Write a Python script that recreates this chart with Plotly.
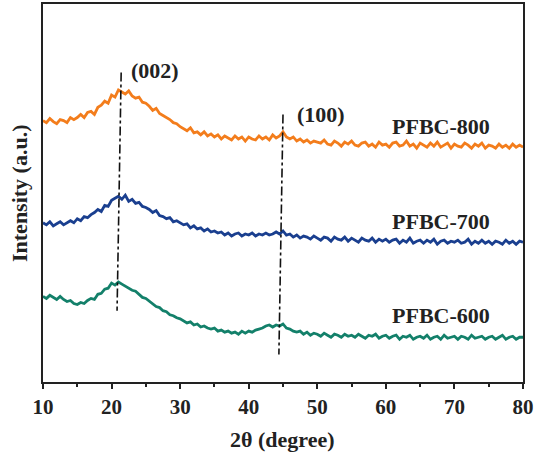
import numpy as np
import plotly.graph_objects as go

two_theta = np.arange(10, 80.01, 0.5).tolist()

pfbc_800 = [262, 260, 264, 261, 259, 263, 262, 260, 265, 263,
            265, 268, 265, 270, 271, 268, 275, 277, 281, 279,
            287, 285, 292, 290, 288, 291, 286, 284, 285, 280,
            279, 276, 272, 274, 269, 267, 265, 263, 260, 259,
            256, 254, 252, 255, 250, 251, 248, 251, 247, 249,
            246, 248, 244, 247, 245, 243, 247, 244, 246, 242,
            246, 244, 243, 247, 244, 246, 243, 248, 245, 247,
            251, 246, 244, 246, 242, 244, 241, 243, 240, 242, 241,
            240, 243, 239, 238, 242, 240, 237, 241, 239, 242,
            238, 237, 240, 241, 237, 239, 236, 241, 238, 239,
            236, 240, 241, 237, 238, 242, 237, 239, 235, 240,
            238, 236, 240, 237, 241, 236, 238, 240, 235, 239,
            237, 236, 240, 238, 235, 239, 237, 240, 235, 238,
            237, 235, 239, 236, 238, 235, 239, 236, 238, 236]

pfbc_700 = [162, 160, 163, 159, 161, 163, 160, 162, 164, 162,
            166, 164, 168, 167, 170, 172, 175, 173, 179, 178,
            184, 186, 188, 185, 189, 183, 185, 181, 182, 178,
            177, 175, 172, 174, 169, 168, 166, 167, 163, 164,
            162, 160, 161, 157, 159, 156, 157, 154, 156, 153,
            154, 152, 153, 150, 152, 149, 151, 152, 149, 151,
            150, 152, 149, 151, 150, 152, 150, 151, 153, 151,
            154, 150, 151, 148, 150, 147, 149, 148, 146, 149, 147,
            145, 148, 147, 144, 148, 146, 145, 148, 144, 147,
            145, 143, 147, 145, 144, 147, 143, 146, 144, 146,
            143, 145, 146, 142, 145, 143, 147, 142, 144, 145,
            142, 145, 143, 146, 141, 144, 145, 142, 144, 143,
            145, 142, 143, 146, 141, 144, 142, 145, 142, 144,
            141, 144, 143, 141, 145, 142, 144, 141, 144, 143]

pfbc_600 = [90, 88, 91, 89, 87, 90, 87, 85, 86, 83,
            82, 84, 83, 86, 88, 87, 92, 93, 97, 98,
            103, 101, 104, 102, 100, 98, 96, 95, 92, 89,
            88, 85, 83, 80, 79, 76, 75, 72, 71, 69,
            68, 66, 64, 65, 62, 63, 60, 61, 59, 58,
            59, 56, 57, 55, 56, 54, 55, 53, 56, 54,
            56, 55, 57, 58, 59, 61, 62, 60, 62, 61,
            63, 59, 58, 56, 55, 56, 53, 55, 52, 54, 53,
            51, 54, 52, 50, 53, 52, 50, 53, 51, 52,
            50, 53, 51, 49, 52, 51, 53, 49, 51, 52,
            49, 51, 52, 48, 51, 50, 52, 48, 50, 51,
            49, 52, 48, 50, 51, 48, 52, 49, 50, 51,
            48, 51, 50, 48, 52, 49, 50, 51, 48, 50,
            51, 48, 50, 52, 48, 50, 51, 48, 50, 50]

series_names = ["PFBC-800", "PFBC-700", "PFBC-600"]
series_colors = ["#F37D1C", "#1A3F8F", "#13806A"]
label_x = [68.0, 68.0, 68.0]
label_y = [256, 163, 71]

# reference lines for the (002) and (100) reflections: [top, bottom]
ref_labels = ["(002)", "(100)"]
ref_line_x = [[21.4, 20.8], [45.0, 44.4]]
ref_line_y = [[309, 76], [268, 33]]
ref_label_x = [26.3, 50.5]
ref_label_y = [311, 268]

tick_vals = [10, 20, 30, 40, 50, 60, 70, 80]

fig = go.Figure()
for name, ys, col in zip(series_names, [pfbc_800, pfbc_700, pfbc_600], series_colors):
    fig.add_trace(go.Scatter(x=two_theta, y=ys, mode="lines", name=name,
                             line=dict(color=col, width=2.8), showlegend=False))

for xs, ys in zip(ref_line_x, ref_line_y):
    fig.add_trace(go.Scatter(x=xs, y=ys, mode="lines", showlegend=False,
                             line=dict(color="#111", width=1.6, dash="dashdot")))

font_b = dict(family="Liberation Serif", size=22, color="#222")
for name, x, y in zip(series_names, label_x, label_y):
    fig.add_annotation(x=x, y=y, text=f"<b>{name}</b>", showarrow=False, font=font_b)
for name, x, y in zip(ref_labels, ref_label_x, ref_label_y):
    fig.add_annotation(x=x, y=y, text=f"<b>{name}</b>", showarrow=False, font=font_b)

title_font = dict(family="Liberation Serif", size=22, color="#222")
fig.add_annotation(xref="paper", yref="paper", x=0.499, y=-0.153, text="<b>2θ (degree)</b>",
                   showarrow=False, font=title_font, xanchor="center", yanchor="middle")
fig.add_annotation(xref="paper", yref="paper", x=-0.05, y=0.5, text="<b>Intensity (a.u.)</b>",
                   showarrow=False, font=title_font, textangle=-90, xanchor="center", yanchor="middle")

fig.update_layout(
    width=534, height=459,
    margin=dict(l=43, r=11, t=4, b=77),
    plot_bgcolor="white", paper_bgcolor="white",
    font=dict(family="Liberation Serif", color="#222"),
)
fig.update_xaxes(
    range=[10, 80], tickvals=tick_vals,
    ticktext=[f"<b>{v}</b>" for v in tick_vals],
    tickfont=dict(family="Liberation Serif", size=21, color="#222"),
    ticks="outside", ticklen=5, tickwidth=2, tickcolor="#222",
    minor=dict(ticks="outside", ticklen=3, tickwidth=1.5, dtick=5, tickcolor="#222"),
    showline=True, linecolor="#222", linewidth=2, mirror=True, showgrid=False, zeroline=False,
    automargin=False,
)
fig.update_yaxes(
    range=[6.2, 376.1], showticklabels=False, ticks="",
    showline=True, linecolor="#222", linewidth=2, mirror=True, showgrid=False, zeroline=False,
    automargin=False,
)
fig.write_html("out.html", config={"displayModeBar": False},
               post_script="document.body.style.margin='0px';")
